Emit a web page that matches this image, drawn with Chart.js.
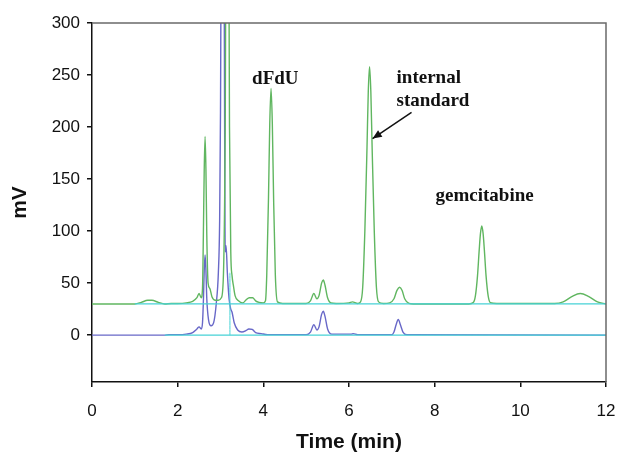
<!DOCTYPE html>
<html>
<head>
<meta charset="utf-8">
<script src="https://cdn.jsdelivr.net/npm/chart.js@4.4.0/dist/chart.umd.min.js"></script>
<style>
  body { margin: 0; background: #fff; }
</style>
</head>
<body>
<canvas id="chromatogram" width="617" height="453"></canvas>
<script>
// upper trace (offset by 30 mV)
const greenTime = [0, 1.0, 1.15, 1.3, 1.4, 1.55, 1.7, 1.85, 2.0, 2.2, 2.35, 2.45, 2.5, 2.55, 2.58, 2.6, 2.62, 2.64, 2.66, 2.68, 2.71, 2.75, 2.8, 2.88, 2.95, 3.02, 3.07, 3.11, 3.13, 3.19, 3.21, 3.24, 3.27, 3.3, 3.34, 3.42, 3.52, 3.6, 3.67, 3.75, 3.82, 3.9, 4.0, 4.05, 4.08, 4.12, 4.15, 4.18, 4.21, 4.24, 4.28, 4.33, 4.45, 5.0, 5.1, 5.18, 5.25, 5.3, 5.36, 5.4, 5.44, 5.5, 5.58, 5.7, 6.0, 6.08, 6.2, 6.27, 6.32, 6.37, 6.42, 6.45, 6.48, 6.51, 6.54, 6.59, 6.64, 6.69, 6.8, 6.95, 7.05, 7.12, 7.18, 7.24, 7.3, 7.4, 7.5, 8.8, 8.9, 8.95, 9.0, 9.04, 9.07, 9.1, 9.13, 9.16, 9.2, 9.25, 9.3, 9.45, 10.8, 11.0, 11.2, 11.4, 11.6, 11.8, 12.0];
const greenMv = [30, 30, 31.5, 33.5, 33.5, 31.5, 30, 30.5, 30.5, 31, 32.5, 36, 40, 36, 45, 96, 159, 191, 159, 96, 50, 45, 37, 33.5, 33.5, 36, 60, 200, 400, 400, 200, 80, 57, 48, 38, 33, 31, 34, 36, 36, 33, 31.5, 31, 33, 58, 131, 203, 237, 203, 131, 58, 32, 30.5, 30.5, 33, 40, 35, 38, 50, 53, 48, 36, 31, 30.5, 31, 32, 30.5, 32, 46, 100, 180, 234, 258, 234, 180, 100, 46, 32, 30.5, 31, 35, 43, 46, 43, 35, 30.5, 30, 30, 31.3, 37.5, 57, 82, 98, 105, 98, 82, 57, 37.5, 31.3, 30.5, 30.5, 32, 37, 40, 37, 32, 30];

// lower trace
const blueTime = [0, 1.7, 1.8, 2.0, 2.2, 2.35, 2.45, 2.5, 2.55, 2.58, 2.6, 2.62, 2.64, 2.66, 2.68, 2.72, 2.78, 2.84, 2.9, 2.95, 2.98, 3.0, 3.02, 3.08, 3.1, 3.11, 3.13, 3.16, 3.2, 3.24, 3.27, 3.32, 3.4, 3.5, 3.6, 3.66, 3.74, 3.82, 3.95, 4.1, 5.0, 5.1, 5.18, 5.25, 5.3, 5.36, 5.4, 5.44, 5.5, 5.6, 6.05, 6.1, 6.2, 7.0, 7.05, 7.1, 7.15, 7.2, 7.26, 7.35, 12.0];
const blueMv = [0, 0, 0.5, 0.5, 1, 2.5, 6, 8, 6, 12, 32, 62, 77, 62, 35, 15, 9, 12, 30, 60, 110, 215, 400, 400, 150, 80, 86, 60, 35, 25, 22, 12, 5, 3, 4.5, 6, 5.5, 2.5, 1.5, 0.5, 0.5, 3, 10, 5, 8, 20, 23, 18, 6, 1, 1, 1.5, 0.5, 0.5, 3, 10, 15, 10, 3, 0.5, 0];

// baselines
const upperBaseTime = [1.0, 12.0];
const upperBaseMv = [30, 30];
const lowerBaseTime = [1.7, 12.0];
const lowerBaseMv = [0, 0];
const markerTime = [3.22, 3.22];
const markerMv = [0, 60];

const xTicks = [0, 2, 4, 6, 8, 10, 12];
const yTicks = [0, 50, 100, 150, 200, 250, 300];

const toPoints = (xs, ys) => xs.map((x, i) => ({ x: x, y: ys[i] }));

const green = 'rgb(96,182,96)';
const blue = 'rgb(104,104,200)';
const cyan = 'rgb(70,210,214)';

// peak labels and arrow, placed in data units
const annotations = [
    { text: 'dFdU', x: 4.28, y: 246, align: 'center' },
    { text: 'internal', x: 7.11, y: 247, align: 'left' },
    { text: 'standard', x: 7.11, y: 225, align: 'left' },
    { text: 'gemcitabine', x: 8.02, y: 134, align: 'left' },
];
const arrowFrom = { x: 7.46, y: 214 };
const arrowTo = { x: 6.55, y: 189 };

const extras = {
    id: 'extras',
    afterDatasetsDraw(chart) {
        const ctx = chart.ctx;
        const xs = chart.scales.x;
        const ys = chart.scales.y;
        const a = chart.chartArea;
        ctx.save();
        // grey frame on top and right
        ctx.strokeStyle = '#6a6a6a';
        ctx.lineWidth = 1.5;
        ctx.beginPath();
        ctx.moveTo(a.left, a.top);
        ctx.lineTo(a.right, a.top);
        ctx.lineTo(a.right, a.bottom);
        ctx.stroke();

        ctx.fillStyle = '#111';
        ctx.font = 'bold 19px "Liberation Serif", "Times New Roman", serif';
        ctx.textBaseline = 'middle';
        annotations.forEach(n => {
            ctx.textAlign = n.align;
            ctx.fillText(n.text, xs.getPixelForValue(n.x), ys.getPixelForValue(n.y));
        });

        const x1 = xs.getPixelForValue(arrowFrom.x), y1 = ys.getPixelForValue(arrowFrom.y);
        const x2 = xs.getPixelForValue(arrowTo.x), y2 = ys.getPixelForValue(arrowTo.y);
        const ang = Math.atan2(y2 - y1, x2 - x1);
        ctx.strokeStyle = '#111';
        ctx.lineWidth = 1.5;
        ctx.beginPath();
        ctx.moveTo(x1, y1);
        ctx.lineTo(x2, y2);
        ctx.stroke();
        ctx.beginPath();
        ctx.moveTo(x2, y2);
        ctx.lineTo(x2 - 10 * Math.cos(ang - 0.4), y2 - 10 * Math.sin(ang - 0.4));
        ctx.lineTo(x2 - 10 * Math.cos(ang + 0.4), y2 - 10 * Math.sin(ang + 0.4));
        ctx.closePath();
        ctx.fill();
        ctx.restore();
    }
};

const line = (pts, color, width) => ({
    data: pts,
    borderColor: color,
    borderWidth: width,
    pointRadius: 0,
    cubicInterpolationMode: 'monotone',
    fill: false,
});

const config = {
    type: 'line',
    data: {
        datasets: [
            line(toPoints(upperBaseTime, upperBaseMv), cyan, 1.3),
            line(toPoints(lowerBaseTime, lowerBaseMv), cyan, 1.3),
            line(toPoints(markerTime, markerMv), cyan, 1),
            line(toPoints(greenTime, greenMv), green, 1.4),
            line(toPoints(blueTime, blueMv), blue, 1.4),
        ]
    },
    options: {
        responsive: false,
        animation: false,
        layout: { padding: { top: 23, right: 0, left: 0, bottom: 0 } },
        plugins: { legend: { display: false }, tooltip: { enabled: false } },
        scales: {
            x: {
                type: 'linear',
                min: 0,
                max: 12,
                afterBuildTicks: s => { s.ticks = xTicks.map(v => ({ value: v })); },
                afterFit: s => { s.height = 71; s.paddingLeft = 0; s.paddingRight = 11; },
                ticks: { color: '#111', padding: 14, font: { family: '"Liberation Sans", Arial, sans-serif', size: 17 } },
                grid: { display: true, drawOnChartArea: false, drawTicks: true, tickLength: 5, color: '#111', lineWidth: 1.5 },
                border: { display: true, color: '#111', width: 1.5 },
                title: { display: true, text: 'Time (min)', color: '#111', padding: 0,
                    font: { family: '"Liberation Sans", Arial, sans-serif', size: 21, weight: 'bold', lineHeight: 1 } },
            },
            y: {
                type: 'linear',
                min: -45,
                max: 300,
                afterBuildTicks: s => { s.ticks = yTicks.map(v => ({ value: v })); },
                afterFit: s => { s.width = 92; s.paddingTop = 0; s.paddingBottom = 0; },
                ticks: { color: '#111', padding: 7, font: { family: '"Liberation Sans", Arial, sans-serif', size: 17 } },
                grid: { display: true, drawOnChartArea: false, drawTicks: true, tickLength: 5, color: '#111', lineWidth: 1.5 },
                border: { display: true, color: '#111', width: 1.5 },
                title: { display: true, text: 'mV', color: '#111', padding: { top: 10, bottom: 0 },
                    font: { family: '"Liberation Sans", Arial, sans-serif', size: 21, weight: 'bold', lineHeight: 1 } },
            }
        }
    },
    plugins: [extras]
};

const chromatogram = new Chart(document.getElementById('chromatogram'), config);
</script>
</body>
</html>
